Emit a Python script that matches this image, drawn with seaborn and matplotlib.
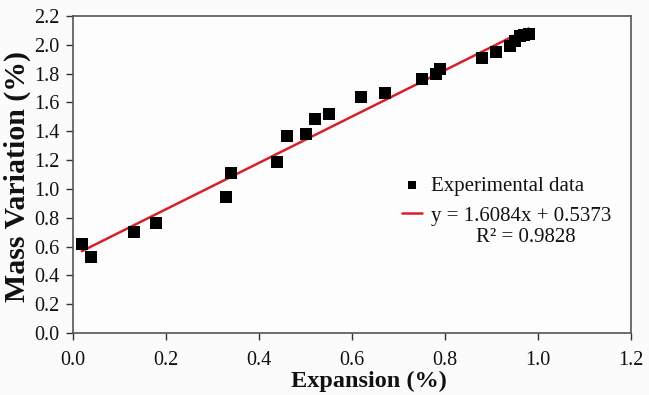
import numpy as np
import pandas as pd
import matplotlib
matplotlib.use("Agg")
import matplotlib.pyplot as plt
import seaborn as sns

expansion = [0.019, 0.039, 0.131, 0.178, 0.329, 0.340, 0.439, 0.460, 0.501, 0.520,
             0.550, 0.619, 0.671, 0.750, 0.780, 0.789, 0.880, 0.910, 0.940, 0.950,
             0.961, 0.970, 0.980]
mass_variation = [0.618, 0.527, 0.700, 0.763, 0.944, 1.110, 1.187, 1.367, 1.381, 1.485,
                  1.520, 1.638, 1.665, 1.763, 1.800, 1.832, 1.908, 1.950, 1.990, 2.026,
                  2.060, 2.070, 2.075]
slope, intercept = 1.6084, 0.5373
r2 = 0.9828
fit_x = [min(expansion), max(expansion)]
fit_y = [slope * v + intercept for v in fit_x]
x_ticks = [0.0, 0.2, 0.4, 0.6, 0.8, 1.0, 1.2]
y_ticks = [0.0, 0.2, 0.4, 0.6, 0.8, 1.0, 1.2, 1.4, 1.6, 1.8, 2.0, 2.2]

sns.set_style("ticks")
plt.rcParams['font.family'] = ['Liberation Serif', 'DejaVu Serif']

fig = plt.figure(figsize=(6.49, 3.95), dpi=100, facecolor='#fbfbfb')
ax = fig.add_axes([73/649, 1-333/395, (631-73)/649, (333-16)/395])
ax.set_facecolor('#fdfdfd')

df = pd.DataFrame({'x': expansion, 'y': mass_variation})
fit = pd.DataFrame({'x': fit_x, 'y': fit_y})
sns.lineplot(data=fit, x='x', y='y', ax=ax, color='#d9202a', linewidth=1.8,
             label=f"y = {slope:.4f}x + {intercept:.4f}")
sns.scatterplot(data=df, x='x', y='y', ax=ax, marker='s', s=64, color='black',
                edgecolor='black', linewidth=0, label='Experimental data', zorder=3)

ax.set_xlim(0, 1.2)
ax.set_ylim(0, 2.2)
ax.set_xticks(x_ticks)
ax.set_yticks(y_ticks)
ax.set_xticklabels([f"{t:.1f}" for t in x_ticks], fontsize=14.5)
ax.set_yticklabels([f"{t:.1f}" for t in y_ticks], fontsize=14.5)
ax.tick_params(direction='out', length=5, width=1, colors='#333333', labelcolor='#111111')
ax.tick_params(axis='x', pad=8)
ax.tick_params(axis='y', pad=5)
ax.set_xlabel('Expansion (%)', fontsize=17.5, fontweight='bold', color='#111111')
ax.xaxis.set_label_coords((369-73)/558, -(381-333)/317)
ax.xaxis.label.set_va('center')
ax.set_ylabel('Mass Variation (%)', fontsize=21.5, fontweight='bold', color='#111111')
ax.yaxis.set_label_coords(-(73-17)/558, (333-176)/317)
ax.yaxis.label.set_va('center')
for s in ax.spines.values():
    s.set_color('#555555')
    s.set_linewidth(1.2)

h, l = ax.get_legend_handles_labels()
leg = ax.legend([h[1], h[0]], [l[1], l[0]], loc='upper left',
                bbox_to_anchor=(402/649, 1-176/395), bbox_transform=fig.transFigure,
                frameon=False, fontsize=15, borderpad=0, borderaxespad=0,
                handlelength=0.95, handletextpad=0.45, labelspacing=0.5,
                markerscale=0.65)
for t in leg.get_texts():
    t.set_color('#111111')
fig.text(526/649, 1-238/395, f"R² = {r2:.4f}", ha='center', va='center',
         fontsize=15, color='#111111')

fig.savefig('out.png', dpi=100, facecolor=fig.get_facecolor())
